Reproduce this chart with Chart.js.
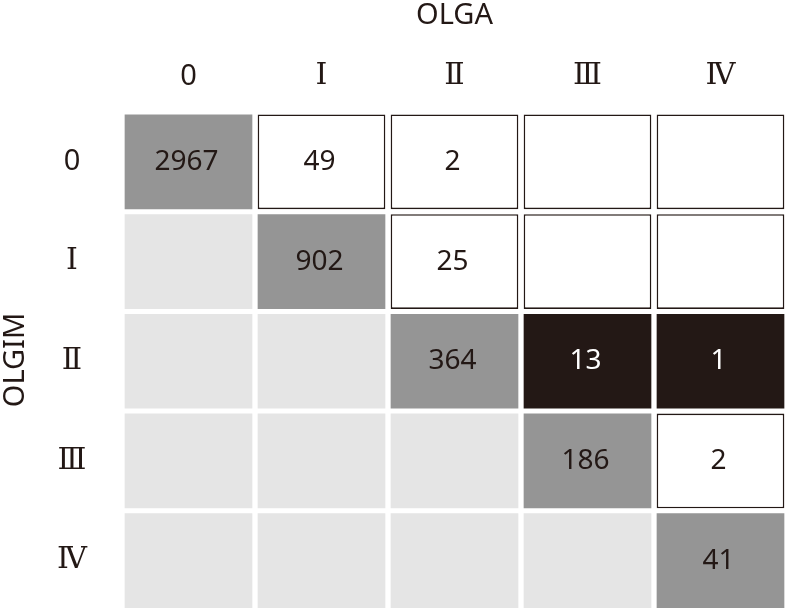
<!DOCTYPE html>
<html>
<head>
<meta charset="utf-8">
<script src="https://cdn.jsdelivr.net/npm/chart.js@4.4.1/dist/chart.umd.min.js"></script>
<style>
  html, body { margin: 0; padding: 0; background: #ffffff; overflow: hidden; }
  #wrap { width: 787px; height: 608px; position: relative; }
</style>
</head>
<body>
<div id="wrap"><canvas id="c"></canvas></div>
<script>
// OLGA stages (columns) and OLGIM stages (rows)
const olgaLabels = ['0', 'Ⅰ', 'Ⅱ', 'Ⅲ', 'Ⅳ'];
const olgimLabels = ['0', 'Ⅰ', 'Ⅱ', 'Ⅲ', 'Ⅳ'];
// counts per OLGIM row, indexed by OLGA column (null = empty cell)
const olgim0 = [2967, 49, 2, null, null];
const olgim1 = [null, 902, 25, null, null];
const olgim2 = [null, null, 364, 13, 1];
const olgim3 = [null, null, null, 186, 2];
const olgim4 = [null, null, null, null, 41];
const rowCounts = [olgim0, olgim1, olgim2, olgim3, olgim4];
// highlighted (dark) cells: [row, column]
const highlightCells = [[2, 3], [2, 4]];

const INK = '#231815';
const DIAG = '#959595';
const LOWER = '#e5e5e5';
const HALF = 0.475;

function isHighlight(r, c) {
  return highlightCells.some(h => h[0] === r && h[1] === c);
}
function cellFill(r, c) {
  if (isHighlight(r, c)) return INK;
  if (r === c) return DIAG;
  if (c < r) return LOWER;
  return '#ffffff';
}
function cellBorder(r, c) {
  return (c > r && !isHighlight(r, c)) ? 1.6 : 0;
}

const datasets = rowCounts.map((counts, r) => ({
  label: 'OLGIM ' + olgimLabels[r],
  data: counts.map(() => [r - HALF, r + HALF]),
  counts: counts,
  backgroundColor: counts.map((_, c) => cellFill(r, c)),
  borderColor: INK,
  borderWidth: counts.map((_, c) => cellBorder(r, c)),
  borderSkipped: false,
  barPercentage: 0.96,
  categoryPercentage: 1.0
}));

const cellText = {
  id: 'cellText',
  afterDatasetsDraw(chart) {
    const ctx = chart.ctx;
    ctx.save();
    ctx.font = '28px "Noto Sans"';
    ctx.textAlign = 'center';
    ctx.textBaseline = 'middle';
    chart.data.datasets.forEach((ds, r) => {
      const meta = chart.getDatasetMeta(r);
      meta.data.forEach((el, c) => {
        const v = ds.counts[c];
        if (v === null || v === undefined) return;
        const p = el.getCenterPoint();
        ctx.fillStyle = isHighlight(r, c) ? '#ffffff' : INK;
        ctx.fillText(String(v), p.x - 2, p.y);
      });
    });
    ctx.restore();
  }
};

function tickFont(ctx) {
  if (ctx.index === 0) return { family: '"Noto Sans"', size: 29, lineHeight: 1.2 };
  return { family: '"DejaVu Serif", "Liberation Serif", serif', size: 30, lineHeight: 1.2 };
}

new Chart(document.getElementById('c'), {
  type: 'bar',
  data: { labels: olgaLabels, datasets: datasets },
  options: {
    responsive: true,
    maintainAspectRatio: false,
    animation: false,
    layout: { padding: 0 },
    plugins: {
      legend: { display: false },
      tooltip: { enabled: false },
      title: { display: false }
    },
    scales: {
      x: {
        type: 'category',
        position: 'top',
        stacked: true,
        offset: true,
        grid: { display: false, drawTicks: false },
        border: { display: false },
        ticks: { color: INK, font: tickFont, padding: 18, maxRotation: 0 },
        title: {
          display: true, text: 'OLGA', color: INK,
          font: { family: '"Noto Sans"', size: 29, lineHeight: 1 },
          padding: { top: 1, bottom: 0 }
        },
        afterFit(scale) {
          scale.height = 112;
          scale.paddingLeft = 0;
          scale.paddingRight = 0;
        }
      },
      y: {
        type: 'linear',
        reverse: true,
        min: -0.5,
        max: 4 + HALF,
        grid: { display: false, drawTicks: false },
        border: { display: false },
        afterBuildTicks(scale) { scale.ticks = olgimLabels.map((_, i) => ({ value: i })); },
        ticks: {
          color: INK, font: tickFont, padding: 35, crossAlign: 'center',
          callback: (v) => olgimLabels[v]
        },
        title: {
          display: true, text: 'OLGIM', color: INK,
          font: { family: '"Noto Sans"', size: 29, lineHeight: 1 },
          padding: { top: 1, bottom: 0 }
        },
        afterFit(scale) {
          scale.width = 122;
          scale.paddingTop = 0;
          scale.paddingBottom = 0;
        }
      }
    }
  },
  plugins: [cellText]
});
</script>
</body>
</html>
